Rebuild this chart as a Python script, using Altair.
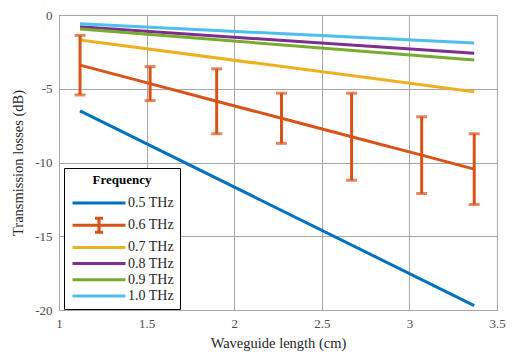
import altair as alt
import pandas as pd

# ---- data ----
freqs = ["0.5 THz", "0.6 THz", "0.7 THz", "0.8 THz", "0.9 THz", "1.0 THz"]
colors = ["#0072BD", "#D95319", "#EDB120", "#7E2F8E", "#77AC30", "#4DBEEE"]

lengths = [1.12, 3.37]
loss_05 = [-6.5, -19.7]
loss_07 = [-1.7, -5.2]
loss_08 = [-0.8, -2.6]
loss_09 = [-0.95, -3.05]
loss_10 = [-0.6, -1.9]

err_x = [1.12, 1.52, 1.90, 2.27, 2.67, 3.07, 3.37]
loss_06 = [-3.4, -4.65, -5.85, -7.0, -8.25, -9.5, -10.45]
err_half = [2.02, 1.15, 2.2, 1.7, 2.95, 2.6, 2.4]

x_ticks = [1, 1.5, 2, 2.5, 3, 3.5]
y_ticks = [-20, -15, -10, -5, 0]

# legend glyphs (custom SVG paths)
line_glyph = "M-5.3,0H5.3"
err_glyph = "M-5.3,0H5.3M0,-1.4V1.4M-0.8,-1.4H0.8M-0.8,1.4H0.8"
glyphs = [line_glyph, err_glyph, line_glyph, line_glyph, line_glyph, line_glyph]

rows = []
for f, vals in [("0.5 THz", loss_05), ("0.7 THz", loss_07), ("0.8 THz", loss_08),
                ("0.9 THz", loss_09), ("1.0 THz", loss_10)]:
    for x, y in zip(lengths, vals):
        rows.append({"freq": f, "len": x, "loss": y})
for x, y in zip(err_x, loss_06):
    rows.append({"freq": "0.6 THz", "len": x, "loss": y})
df = pd.DataFrame(rows)

err_df = pd.DataFrame({
    "freq": "0.6 THz",
    "len": err_x,
    "lo": [m - h for m, h in zip(loss_06, err_half)],
    "hi": [m + h for m, h in zip(loss_06, err_half)],
})

font = "Liberation Serif"

x_enc = alt.X("len:Q", scale=alt.Scale(domain=[1, 3.5], nice=False),
              axis=alt.Axis(values=x_ticks, title="Waveguide length (cm)",
                            labelExpr="datum.value + ''"))
y_enc = alt.Y("loss:Q", scale=alt.Scale(domain=[-20, 0], nice=False),
              axis=alt.Axis(values=y_ticks, title="Transmission losses (dB)",
                            labelExpr="datum.value + ''"))

color_scale = alt.Scale(domain=freqs, range=colors)
legend = alt.Legend(
    orient="none", legendX=5, legendY=153,
    symbolOpacity=1, symbolStrokeWidth=3, symbolSize=100,
    symbolOffset=22, labelOffset=22,
    strokeColor="#000000", fillColor="#ffffff",
    padding=6, rowPadding=2.2,
    titleAnchor="middle", titlePadding=9,
    titleFont=font, titleFontSize=13, titleFontWeight="bold",
    titleColor="#000000",
    labelFont=font, labelFontSize=14, labelColor="#262626",
)

lines = alt.Chart(df).mark_line(strokeWidth=3).encode(
    x=x_enc, y=y_enc,
    color=alt.Color("freq:N", scale=color_scale, title="Frequency", legend=legend),
    order="len:Q",
)

legend_pts = alt.Chart(df).mark_point(filled=False, opacity=0, strokeWidth=3).encode(
    x="len:Q", y="loss:Q",
    color=alt.Color("freq:N", scale=color_scale, title="Frequency", legend=legend),
    shape=alt.Shape("freq:N", scale=alt.Scale(domain=freqs, range=glyphs),
                    title="Frequency", legend=legend),
)

err_rule = alt.Chart(err_df).mark_rule(strokeWidth=3, color="#D95319").encode(
    x="len:Q", y="lo:Q", y2="hi:Q",
)
cap_lo = alt.Chart(err_df).mark_tick(thickness=3, size=11, orient="horizontal",
                                     color="#D95319").encode(x="len:Q", y="lo:Q")
cap_hi = alt.Chart(err_df).mark_tick(thickness=3, size=11, orient="horizontal",
                                     color="#D95319").encode(x="len:Q", y="hi:Q")

chart = alt.layer(lines, err_rule, cap_lo, cap_hi, legend_pts).properties(
    width=438, height=295,
    autosize=alt.AutoSizeParams(type="none"),
    padding={"left": 51, "top": 7, "right": 9, "bottom": 50},
).configure_view(
    stroke="#4d4d4d", strokeWidth=1,
).configure_axis(
    grid=True, gridColor="#a6a6a6", gridWidth=1,
    domain=False, ticks=False, labelFlush=False,
    labelFont=font, labelFontSize=13, labelColor="#4d4d4d",
    titleFont=font, titleFontSize=14.5, titleFontWeight="normal", titleColor="#262626",
).configure_axisX(
    labelPadding=7, titlePadding=6,
).configure_axisY(
    labelPadding=7, titlePadding=9,
)

chart.save("out.html", embed_options={"renderer": "svg", "actions": False})
